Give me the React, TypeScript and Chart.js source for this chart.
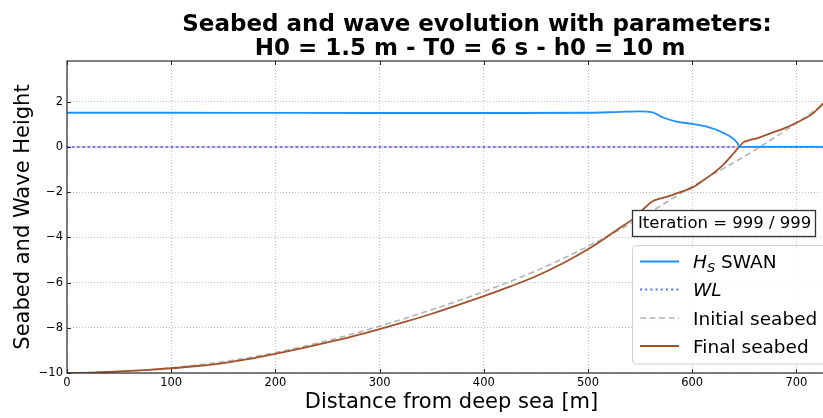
import React, { useEffect, useRef } from "react";
import { Chart, registerables } from "chart.js";

Chart.register(...registerables);

// ---- Data ----
const X_TICKS = [0, 100, 200, 300, 400, 500, 600, 700];
const Y_TICKS = [-10, -8, -6, -4, -2, 0, 2];

const X_HS = [0, 100, 200, 300, 400, 500, 531, 550, 561, 566, 572, 585, 600, 614, 622, 630, 638, 642, 644.6, 645, 660, 700, 738];
const Y_HS = [1.51, 1.51, 1.505, 1.5, 1.5, 1.51, 1.55, 1.57, 1.54, 1.45, 1.3, 1.12, 1.02, 0.9, 0.78, 0.62, 0.42, 0.25, 0.06, 0, 0, 0, 0];

const X_WL = [0, 738];
const Y_WL = [0, 0];

const X_INIT = [0, 50, 100, 150, 200, 250, 300, 350, 400, 450, 500, 550, 600, 650, 665, 700, 726, 738];
const Y_INIT = [-10, -9.94, -9.77, -9.5, -9.1, -8.57, -7.93, -7.2, -6.4, -5.48, -4.4, -3.15, -1.75, -0.42, 0, 1.05, 1.9, 2.35];

const X_FINAL = [0, 25, 50, 75, 100, 125, 150, 175, 200, 225, 250, 275, 300, 325, 350, 375, 400, 425, 450, 475, 500, 515, 530, 545, 555, 562, 570, 580, 590, 600, 610, 620, 630, 640, 645, 649, 655, 662, 675, 690, 700, 715, 726, 738];
const Y_FINAL = [-10, -9.98, -9.93, -9.87, -9.79, -9.69, -9.56, -9.38, -9.15, -8.91, -8.65, -8.37, -8.06, -7.73, -7.38, -7.0, -6.6, -6.18, -5.72, -5.17, -4.53, -4.08, -3.6, -3.13, -2.67, -2.4, -2.28, -2.14, -1.98, -1.8, -1.5, -1.17, -0.78, -0.27, 0.0, 0.2, 0.3, 0.38, 0.6, 0.85, 1.07, 1.45, 1.93, 2.45];

const TITLE_LINES = ["Seabed and wave evolution with parameters:", "H0 = 1.5 m - T0 = 6 s - h0 = 10 m"];
const ITERATION_TEXT = "Iteration = 999 / 999";
const X_LABEL = "Distance from deep sea [m]";
const Y_LABEL = "Seabed and Wave Height";

const C_HS = "#1e90ff";
const C_WL = "#4f7ae8";
const C_INIT = "#b4b4b4";
const C_FINAL = "#a0522d";

const FONT = "'DejaVu Sans', sans-serif";

const pts = (xs: number[], ys: number[]) => xs.map((x, i) => ({ x, y: ys[i] }));
const fmt = (v: number) => (v < 0 ? "\u2212" + Math.abs(v) : String(v));

const decorPlugin = {
  id: "decor",
  afterDraw(chart: any) {
    const { ctx, chartArea } = chart;
    const { left, right, top, bottom } = chartArea;
    const xs = chart.scales.x;
    const ys = chart.scales.y;
    ctx.save();
    // spines
    ctx.strokeStyle = "#2b2b2b";
    ctx.lineWidth = 1.2;
    ctx.strokeRect(left, top, right - left, bottom - top);
    // inward ticks
    ctx.lineWidth = 1;
    ctx.beginPath();
    X_TICKS.forEach((v) => {
      const px = Math.round(xs.getPixelForValue(v)) + 0.5;
      ctx.moveTo(px, bottom);
      ctx.lineTo(px, bottom - 4);
      ctx.moveTo(px, top);
      ctx.lineTo(px, top + 4);
    });
    Y_TICKS.forEach((v) => {
      const py = Math.round(ys.getPixelForValue(v)) + 0.5;
      ctx.moveTo(left, py);
      ctx.lineTo(left + 4, py);
      ctx.moveTo(right, py);
      ctx.lineTo(right - 4, py);
    });
    ctx.stroke();

    // title
    ctx.fillStyle = "#000";
    ctx.font = `bold 23px ${FONT}`;
    ctx.textAlign = "center";
    ctx.textBaseline = "alphabetic";
    ctx.fillText(TITLE_LINES[0], 477, 31);
    ctx.fillText(TITLE_LINES[1], 470, 55);

    // iteration box
    ctx.fillStyle = "#fff";
    ctx.fillRect(632, 210, 183, 26);
    ctx.strokeStyle = "#333";
    ctx.lineWidth = 1.3;
    ctx.strokeRect(632.5, 210.5, 183, 26);
    ctx.fillStyle = "#000";
    ctx.font = `16.5px ${FONT}`;
    ctx.textAlign = "left";
    ctx.textBaseline = "middle";
    ctx.fillText(ITERATION_TEXT, 638, 224);

    // legend
    const lx = 632.5, ly = 245.5, lw = 194.5, lh = 118.5, r = 4;
    ctx.beginPath();
    ctx.moveTo(lx + r, ly);
    ctx.lineTo(lx + lw - r, ly);
    ctx.quadraticCurveTo(lx + lw, ly, lx + lw, ly + r);
    ctx.lineTo(lx + lw, ly + lh - r);
    ctx.quadraticCurveTo(lx + lw, ly + lh, lx + lw - r, ly + lh);
    ctx.lineTo(lx + r, ly + lh);
    ctx.quadraticCurveTo(lx, ly + lh, lx, ly + lh - r);
    ctx.lineTo(lx, ly + r);
    ctx.quadraticCurveTo(lx, ly, lx + r, ly);
    ctx.closePath();
    ctx.fillStyle = "rgba(255,255,255,0.8)";
    ctx.fill();
    ctx.strokeStyle = "#d0d0d0";
    ctx.lineWidth = 1;
    ctx.stroke();

    const entries = [
      { y: 261.5, color: C_HS, dash: [] as number[], width: 1.8 },
      { y: 289.5, color: C_WL, dash: [2, 3.2], width: 2 },
      { y: 318, color: C_INIT, dash: [6, 3.5], width: 1.6 },
      { y: 346, color: C_FINAL, dash: [] as number[], width: 1.8 },
    ];
    entries.forEach((e) => {
      ctx.beginPath();
      ctx.setLineDash(e.dash);
      ctx.strokeStyle = e.color;
      ctx.lineWidth = e.width;
      ctx.moveTo(640, e.y);
      ctx.lineTo(679, e.y);
      ctx.stroke();
    });
    ctx.setLineDash([]);
    ctx.fillStyle = "#000";
    ctx.textBaseline = "alphabetic";
    const tx = 693;
    // H_S SWAN
    ctx.font = `italic 18.5px ${FONT}`;
    ctx.fillText("H", tx, 268);
    const hw = ctx.measureText("H").width;
    ctx.font = `italic 13px ${FONT}`;
    ctx.fillText("S", tx + hw, 271.5);
    const sw = ctx.measureText("S").width;
    ctx.font = `18.5px ${FONT}`;
    ctx.fillText(" SWAN", tx + hw + sw, 268);
    ctx.font = `italic 18.5px ${FONT}`;
    ctx.fillText("WL", tx, 296);
    ctx.font = `18.5px ${FONT}`;
    ctx.fillText("Initial seabed", tx, 324.5);
    ctx.fillText("Final seabed", tx, 352.5);
    ctx.restore();
  },
};

export default function App() {
  const ref = useRef<HTMLCanvasElement | null>(null);
  useEffect(() => {
    if (!ref.current) return;
    const chart = new Chart(ref.current, {
      type: "line",
      data: {
        datasets: [
          {
            label: "Hs SWAN",
            data: pts(X_HS, Y_HS),
            borderColor: C_HS,
            borderWidth: 1.8,
            pointRadius: 0,
            cubicInterpolationMode: "monotone",
            order: 0,
          },
          {
            label: "Final seabed",
            data: pts(X_FINAL, Y_FINAL),
            borderColor: C_FINAL,
            borderWidth: 1.8,
            pointRadius: 0,
            cubicInterpolationMode: "monotone",
            order: 1,
          },
          {
            label: "Initial seabed",
            data: pts(X_INIT, Y_INIT),
            borderColor: C_INIT,
            borderWidth: 1.6,
            borderDash: [6, 3.5],
            pointRadius: 0,
            cubicInterpolationMode: "monotone",
            order: 2,
          },
          {
            label: "WL",
            data: pts(X_WL, Y_WL),
            borderColor: C_WL,
            borderWidth: 2,
            borderDash: [2, 3.2],
            pointRadius: 0,
            order: 3,
          },
          {
            label: "",
            data: pts(X_WL, Y_WL),
            borderColor: "rgba(232,196,220,0.8)",
            borderWidth: 2.5,
            pointRadius: 0,
            order: 4,
          },
        ],
      },
      options: {
        responsive: false,
        animation: false,
        devicePixelRatio: 1,
        layout: { padding: { top: 61, right: 14, left: 0, bottom: 0 } },
        plugins: { legend: { display: false }, title: { display: false }, tooltip: { enabled: false } },
        scales: {
          x: {
            type: "linear",
            min: 0,
            max: 738,
            afterFit: (s: any) => {
              s.height = 45;
            },
            afterBuildTicks: (s: any) => {
              s.ticks = X_TICKS.map((v) => ({ value: v }));
            },
            grid: { color: "#b0b0b0", lineWidth: 0.8, drawTicks: false },
            border: { display: false, dash: [1, 2] },
            ticks: {
              padding: 3,
              color: "#000",
              font: { family: FONT, size: 11.5 },
              maxRotation: 0,
              autoSkip: false,
              callback: (v: any) => fmt(Number(v)),
            },
            title: {
              display: true,
              text: X_LABEL,
              color: "#000",
              font: { family: FONT, size: 21 },
              padding: { top: 0, bottom: 3 },
            },
          },
          y: {
            type: "linear",
            min: -10,
            max: 3.8,
            afterFit: (s: any) => {
              s.width = 67;
            },
            afterBuildTicks: (s: any) => {
              s.ticks = Y_TICKS.map((v) => ({ value: v }));
            },
            grid: { color: "#b0b0b0", lineWidth: 0.8, drawTicks: false },
            border: { display: false, dash: [1, 2] },
            ticks: {
              padding: 4,
              color: "#000",
              font: { family: FONT, size: 11.5 },
              autoSkip: false,
              callback: (v: any) => fmt(Number(v)),
            },
            title: {
              display: true,
              text: Y_LABEL,
              color: "#000",
              font: { family: FONT, size: 21 },
              padding: { top: 10.5, bottom: 0 },
            },
          },
        },
      },
      plugins: [decorPlugin],
    } as any);
    return () => chart.destroy();
  }, []);

  return (
    <div style={{ position: "fixed", left: 0, top: 0, width: 823, height: 418, overflow: "hidden", background: "#fff" }}>
      <canvas ref={ref} width={850} height={418} style={{ display: "block", width: 850, height: 418 }} />
    </div>
  );
}
